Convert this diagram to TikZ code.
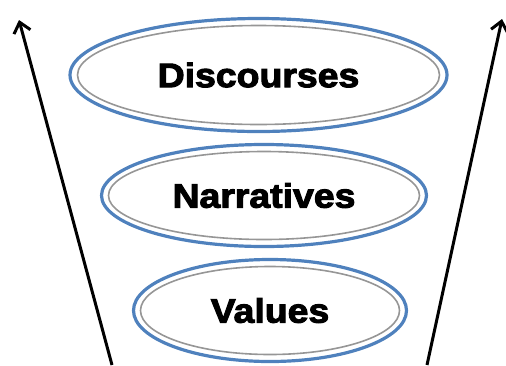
\documentclass[tikz,border=0pt]{standalone}
\usepackage{fontspec}
\newfontfamily\labelfont{Liberation Sans}[BoldFeatures={FakeBold=3,FakeStretch=1.1}]
\usetikzlibrary{shapes.geometric,arrows.meta}
\definecolor{ringblue}{RGB}{79,129,189}
\definecolor{ringgray}{RGB}{150,150,150}
\tikzset{
  level/.style={ellipse, draw=ringblue, line width=3.2pt, inner sep=0pt,
    font=\labelfont\bfseries\fontsize{34}{38}\selectfont},
  innerring/.style={draw=ringgray, line width=1.6pt},
  riser/.style={line width=3pt, -{Straight Barb[length=10pt,width=17pt,line width=3pt]}}
}
\begin{document}
\begin{tikzpicture}[x=1pt,y=-1pt]
  \useasboundingbox (0,0) rectangle (506,365);
  % three stacked levels
  \node[level, minimum width=377pt, minimum height=113pt] (disc) at (258.5,75) {Discourses};
  \node[level, minimum width=325pt, minimum height=102pt] (narr) at (264,195.5) {Narratives};
  \node[level, minimum width=273pt, minimum height=102pt] (vals) at (270,310.5) {Values};
  % inner grey rings
  \draw[innerring] (disc.center) ellipse [x radius=181, y radius=49.5];
  \draw[innerring] (narr.center) ellipse [x radius=155.5, y radius=44];
  \draw[innerring] (vals.center) ellipse [x radius=129.5, y radius=44];
  % diverging arrows on both sides
  \coordinate (lb) at (112,365);
  \coordinate (lt) at (19,20);
  \coordinate (rb) at (427,365);
  \coordinate (rt) at (502,19);
  \draw[riser] (lb) -- (lt);
  \draw[riser] (rb) -- (rt);
\end{tikzpicture}
\end{document}
